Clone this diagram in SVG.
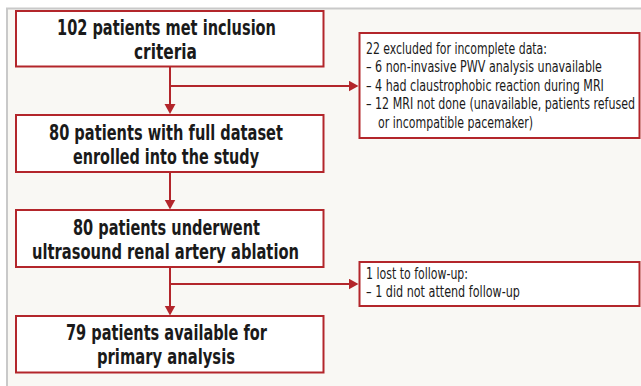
<svg xmlns="http://www.w3.org/2000/svg" width="641" height="386" viewBox="0 0 641 386">
<style>
.bg{fill:#f9f8f4}
.frame{stroke:#c9c9c9;stroke-width:2;fill:none}
.box{fill:#ffffff;stroke:#b3262b;stroke-width:2}
.main{font-family:"Liberation Sans Narrow","DejaVu Sans Condensed","Liberation Sans",sans-serif;font-weight:bold;font-size:22px;fill:#1a1a1a;text-anchor:middle}
.side{font-family:"Liberation Sans Narrow","DejaVu Sans Condensed","Liberation Sans",sans-serif;font-size:16px;fill:#1a1a1a}
.conn{stroke:#b3262b;stroke-width:2;fill:none}
</style>
<defs>
<marker id="arr" markerUnits="userSpaceOnUse" markerWidth="11" markerHeight="12" refX="8" refY="5.5" orient="auto">
<path d="M0,0 L10,5.5 L0,11 z" fill="#b3262b"/>
</marker>
</defs>
<rect x="0" y="0" width="641" height="386" fill="#ffffff"/>
<rect class="bg" x="7" y="8.5" width="634" height="377.5"/>
<path class="frame" d="M7,386 V8.5 H641"/>

<g id="connectors">
<path class="conn" d="M170,66.5 V112" marker-end="url(#arr)"/>
<path class="conn" d="M170,86 H356.5" marker-end="url(#arr)"/>
<path class="conn" d="M170,172 V207.5" marker-end="url(#arr)"/>
<path class="conn" d="M170,267 V313.5" marker-end="url(#arr)"/>
<path class="conn" d="M170,284 H356.5" marker-end="url(#arr)"/>
</g>

<g id="n1">
<rect class="box" x="16" y="11" width="307.5" height="55.5"/>
<text class="main" x="166.5" y="35" textLength="219" lengthAdjust="spacingAndGlyphs">102 patients met inclusion</text>
<text class="main" x="165.5" y="59" textLength="63" lengthAdjust="spacingAndGlyphs">criteria</text>
</g>

<g id="n2">
<rect class="box" x="16" y="115" width="307.5" height="57"/>
<text class="main" x="166" y="140" textLength="234" lengthAdjust="spacingAndGlyphs">80 patients with full dataset</text>
<text class="main" x="166" y="164" textLength="186" lengthAdjust="spacingAndGlyphs">enrolled into the study</text>
</g>

<g id="n3">
<rect class="box" x="16" y="210" width="307.5" height="57"/>
<text class="main" x="166.5" y="235" textLength="187" lengthAdjust="spacingAndGlyphs">80 patients underwent</text>
<text class="main" x="165.5" y="259" textLength="267" lengthAdjust="spacingAndGlyphs">ultrasound renal artery ablation</text>
</g>

<g id="n4">
<rect class="box" x="16" y="316" width="307.5" height="56.5"/>
<text class="main" x="166.5" y="340" textLength="201" lengthAdjust="spacingAndGlyphs">79 patients available for</text>
<text class="main" x="166" y="364" textLength="138" lengthAdjust="spacingAndGlyphs">primary analysis</text>
</g>

<g id="s1">
<rect class="box" x="359.5" y="33" width="280" height="105"/>
<g transform="translate(366,0) scale(0.78,1)">
<text class="side" x="0" y="54" textLength="232" lengthAdjust="spacingAndGlyphs">22 excluded for incomplete data:</text>
<text class="side" x="0" y="72.5" textLength="302.5" lengthAdjust="spacingAndGlyphs">– 6 non-invasive PWV analysis unavailable</text>
<text class="side" x="0" y="91" textLength="305" lengthAdjust="spacingAndGlyphs">– 4 had claustrophobic reaction during MRI</text>
<text class="side" x="0" y="109.5" textLength="345" lengthAdjust="spacingAndGlyphs">– 12 MRI not done (unavailable, patients refused</text>
<text class="side" x="15.4" y="128" textLength="198.7" lengthAdjust="spacingAndGlyphs">or incompatible pacemaker)</text>
</g>
</g>

<g id="s2">
<rect class="box" x="359.5" y="262" width="280" height="44"/>
<g transform="translate(366,0) scale(0.78,1)">
<text class="side" x="0" y="279" textLength="130.8" lengthAdjust="spacingAndGlyphs">1 lost to follow-up:</text>
<text class="side" x="0" y="297.5" textLength="197.4" lengthAdjust="spacingAndGlyphs">– 1 did not attend follow-up</text>
</g>
</g>
</svg>
